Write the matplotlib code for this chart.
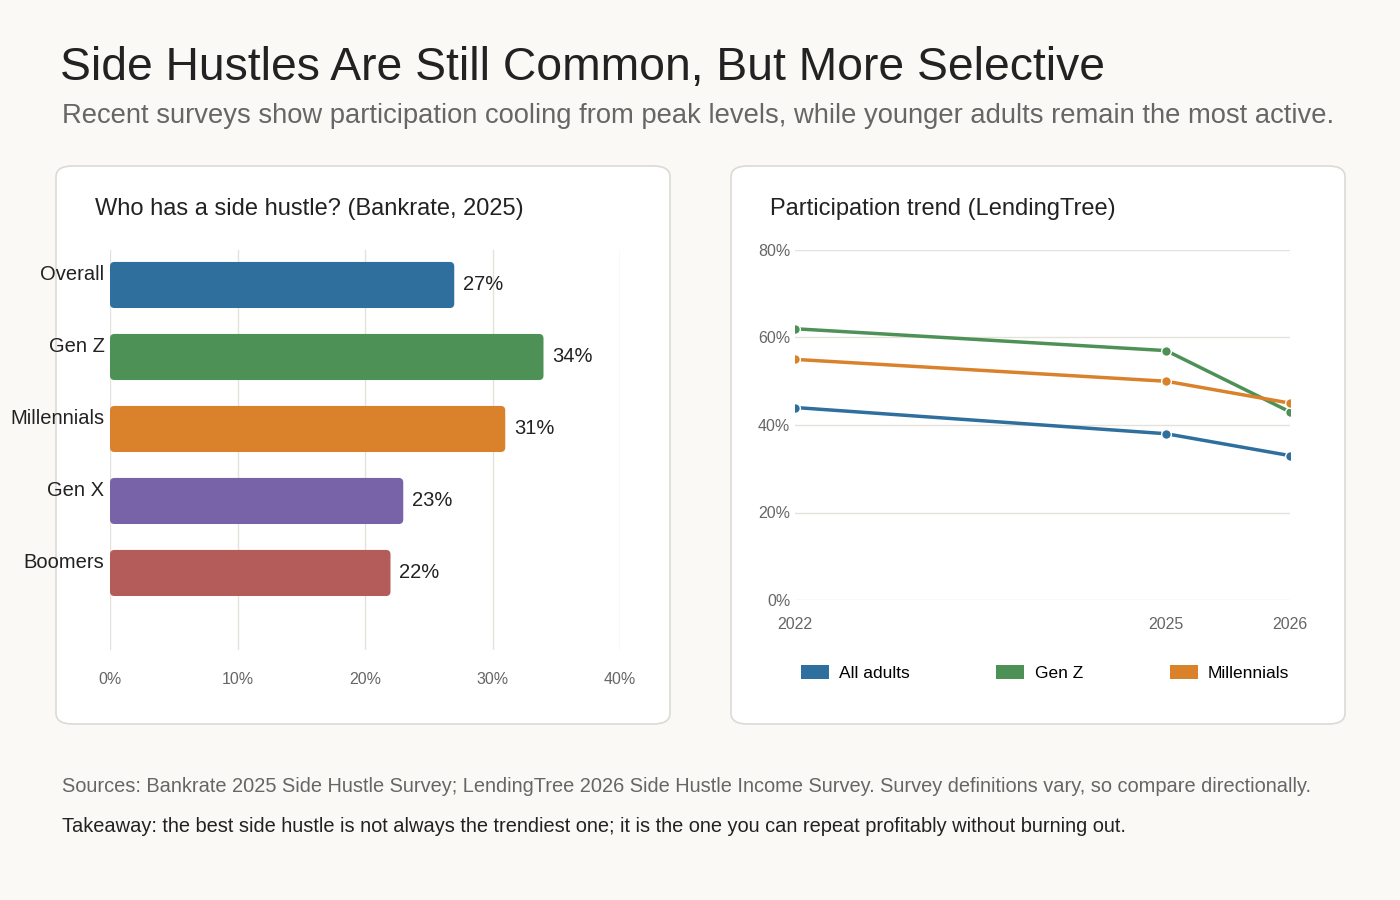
import matplotlib.pyplot as plt
from matplotlib.patches import FancyBboxPatch, Patch
from matplotlib.ticker import FuncFormatter

groups = ["Overall", "Gen Z", "Millennials", "Gen X", "Boomers"]
shares = [27, 34, 31, 23, 22]
bar_colors = ["#2e6f9e", "#4e9157", "#d9822b", "#7862a8", "#b35c5a"]

years = [2022, 2025, 2026]
trend = {
    "All adults": [44, 38, 33],
    "Gen Z": [62, 57, 43],
    "Millennials": [55, 50, 45],
}
trend_colors = {"All adults": "#2e6f9e", "Gen Z": "#4e9157", "Millennials": "#d9822b"}

bg = "#faf9f6"
plt.rcParams["font.family"] = ["Liberation Sans", "DejaVu Sans"]
fig = plt.figure(figsize=(14, 9), dpi=100, facecolor=bg)

# cards, kept behind the axes
for x0 in (56, 731):
    fig.patches.append(FancyBboxPatch((x0 / 1400, 1 - 724 / 900), 614 / 1400, 558 / 900,
                                      boxstyle="round,pad=0,rounding_size=0.012",
                                      transform=fig.transFigure, facecolor="white",
                                      edgecolor="#dcdad4", linewidth=1.2, zorder=-5))

fig.text(60 / 1400, 1 - 68 / 900, "Side Hustles Are Still Common, But More Selective",
         fontsize=33.3, color="#222222", va="center")
fig.text(62 / 1400, 1 - 116 / 900,
         "Recent surveys show participation cooling from peak levels, while younger adults remain the most active.",
         fontsize=19.7, color="#666666", va="center")

# left: bars
ax1 = fig.add_axes([110 / 1400, 1 - 650 / 900, 510 / 1400, 400 / 900])
ax1.set_facecolor("none")
for i, (v, c) in enumerate(zip(shares, bar_colors)):
    ax1.add_patch(FancyBboxPatch((0, i - 0.32), v, 0.64,
                                 boxstyle="round,pad=0,rounding_size=0.35",
                                 mutation_aspect=0.177, facecolor=c, edgecolor="none", zorder=3))
    ax1.text(v + 0.7, i, f"{v}%", va="center", ha="left", fontsize=14.5, color="#222222")
ax1.set_xlim(0, 40)
ax1.set_ylim(5.07, -0.486)
ax1.set_xticks([0, 10, 20, 30, 40])
ax1.xaxis.set_major_formatter(FuncFormatter(lambda v, p: f"{v:.0f}%"))
ax1.set_yticks([i - 0.18 for i in range(5)])
ax1.set_yticklabels(groups, fontsize=14.5, color="#222222")
ax1.grid(axis="x", color="#e4e2da", linewidth=1, zorder=0)
ax1.tick_params(axis="both", length=0)
ax1.tick_params(axis="x", labelsize=11.5, colors="#666666", pad=16)
ax1.tick_params(axis="y", pad=4)
for s in ax1.spines.values():
    s.set_visible(False)
fig.text(95 / 1400, 1 - 209 / 900, "Who has a side hustle? (Bankrate, 2025)",
         fontsize=17, color="#222222", va="center")

# right: lines
ax2 = fig.add_axes([795 / 1400, 1 - 600 / 900, 495 / 1400, 350 / 900])
ax2.set_facecolor("none")
for name, vals in trend.items():
    ax2.plot(years, vals, color=trend_colors[name], linewidth=2.5, marker="o",
             markersize=7, markeredgecolor="white", markeredgewidth=1, zorder=3)
ax2.set_xlim(2022, 2026)
ax2.set_ylim(0, 80)
ax2.set_xticks(years)
ax2.set_yticks([0, 20, 40, 60, 80])
ax2.yaxis.set_major_formatter(FuncFormatter(lambda v, p: f"{v:.0f}%"))
ax2.grid(axis="y", color="#e4e2da", linewidth=1, zorder=0)
ax2.tick_params(axis="both", length=0, labelsize=11.5, colors="#666666")
ax2.tick_params(axis="x", pad=12)
for s in ax2.spines.values():
    s.set_visible(False)
handles = [Patch(facecolor=trend_colors[n], edgecolor="none") for n in trend]
ax2.legend(handles, list(trend), loc="upper left", bbox_to_anchor=(-0.02, -0.14), ncol=3,
           frameon=False, fontsize=12.5, handlelength=1.6, handleheight=0.9,
           columnspacing=5.0, handletextpad=0.6)
fig.text(770 / 1400, 1 - 209 / 900, "Participation trend (LendingTree)",
         fontsize=17, color="#222222", va="center")

fig.text(62 / 1400, 1 - 787 / 900,
         "Sources: Bankrate 2025 Side Hustle Survey; LendingTree 2026 Side Hustle Income Survey. Survey definitions vary, so compare directionally.",
         fontsize=14.4, color="#666666", va="center")
fig.text(62 / 1400, 1 - 827 / 900,
         "Takeaway: the best side hustle is not always the trendiest one; it is the one you can repeat profitably without burning out.",
         fontsize=14.4, color="#222222", va="center")

fig.savefig("out.png", dpi=100, facecolor=bg)
